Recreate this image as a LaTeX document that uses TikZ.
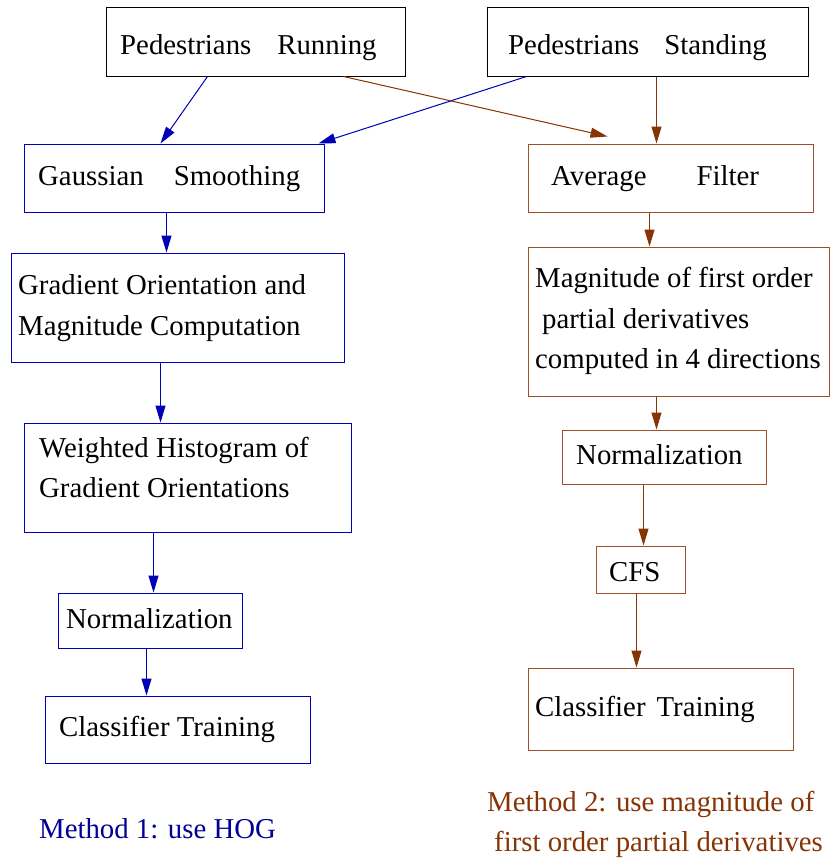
\documentclass[tikz,border=0pt]{standalone}
\usepackage{fontspec}
\setmainfont{Liberation Serif}
\usetikzlibrary{arrows.meta}
\definecolor{hogblue}{RGB}{0,0,185}
\definecolor{hoglabel}{RGB}{0,0,150}
\definecolor{derbrown}{RGB}{135,52,5}
\definecolor{derbox}{RGB}{160,80,40}

\begin{document}
\begin{tikzpicture}[x=1pt,y=-1pt,
  box/.style={draw,line width=1pt,inner sep=0pt,rectangle},
  blackbox/.style={box,draw=black},
  bluebox/.style={box,draw=hogblue},
  brownbox/.style={box,draw=derbox},
  txt/.style={inner sep=0pt,anchor=base west,font=\fontsize{28.8}{34}\selectfont},
  barrow/.style={draw=hogblue,line width=1pt,-{Triangle[length=17pt,width=10pt]}},
  rarrow/.style={draw=derbrown,line width=1pt,-{Triangle[length=17pt,width=10pt]}}]

\useasboundingbox (0,0) rectangle (830,859);

% input boxes
\node[blackbox,minimum width=299pt,minimum height=68pt] (pr) at (255.5,42) {};
\node[blackbox,minimum width=321pt,minimum height=68pt] (ps) at (647.5,42) {};
\node[txt] (pr-t) at (120,55) {Pedestrians\hspace{26pt}Running};
\node[txt] (ps-t) at (508,55) {Pedestrians\hspace{25pt}Standing};

% method 1: HOG chain
\node[bluebox,minimum width=300pt,minimum height=68pt] (gs) at (174,178) {};
\node[bluebox,minimum width=333pt,minimum height=109pt] (go) at (177.5,307.5) {};
\node[bluebox,minimum width=327pt,minimum height=109pt] (wh) at (187.5,477.5) {};
\node[bluebox,minimum width=184pt,minimum height=55pt] (nl) at (150,620.5) {};
\node[bluebox,minimum width=265pt,minimum height=67pt] (ctl) at (177.5,729.5) {};

\node[txt] (gs-t) at (38,185) {Gaussian\hspace{30pt}Smoothing};
\node[txt] (go-t1) at (18,294) {Gradient Orientation and};
\node[txt] (go-t2) at (18,335) {Magnitude Computation};
\node[txt] (wh-t1) at (39,457) {Weighted Histogram of};
\node[txt] (wh-t2) at (39,497) {Gradient Orientations};
\node[txt] (nl-t) at (66,628) {Normalization};
\node[txt] (ctl-t) at (59,736) {Classifier Training};

% method 2: derivative chain
\node[brownbox,minimum width=285pt,minimum height=68pt] (af) at (670.5,178) {};
\node[brownbox,minimum width=301pt,minimum height=149pt] (mg) at (678.5,321.5) {};
\node[brownbox,minimum width=204pt,minimum height=54pt] (nr) at (664,457) {};
\node[brownbox,minimum width=89pt,minimum height=47pt] (cfs) at (640.5,569.5) {};
\node[brownbox,minimum width=265pt,minimum height=82pt] (ctr) at (660.5,709) {};

\node[txt] (af-t) at (551,185) {Average\hspace{50pt}Filter};
\node[txt] (mg-t1) at (535,287) {Magnitude of first order};
\node[txt] (mg-t2) at (542,328) {partial derivatives};
\node[txt] (mg-t3) at (535,368) {computed in 4 directions};
\node[txt] (nr-t) at (576,464) {Normalization};
\node[txt] (cfs-t) at (609,581) {CFS};
\node[txt] (ctr-t) at (535,716) {Classifier\hspace{11pt}Training};

% captions
\node[txt,text=hoglabel] (cap1) at (39,838) {Method 1: use HOG};
\node[txt,text=derbrown] (cap2a) at (487,811) {Method 2: use magnitude of};
\node[txt,text=derbrown] (cap2b) at (494,851) {first order partial derivatives};

% connectors, method 1
\draw[barrow] ([xshift=102pt]pr.south west) -- ([xshift=137pt]gs.north west);
\draw[barrow] ([xshift=40pt]ps.south west) -- ([xshift=295pt]gs.north west);
\draw[barrow] ([xshift=143pt]gs.south west) -- ([xshift=156pt]go.north west);
\draw[barrow] ([xshift=150pt]go.south west) -- ([xshift=137pt]wh.north west);
\draw[barrow] ([xshift=130pt]wh.south west) -- ([xshift=96pt]nl.north west);
\draw[barrow] ([xshift=89pt]nl.south west) -- ([xshift=102pt]ctl.north west);

% connectors, method 2
\draw[rarrow] ([xshift=238pt]pr.south west) -- ([xshift=80pt,yshift=7pt]af.north west);
\draw[rarrow] ([xshift=170pt]ps.south west) -- ([xshift=129pt]af.north west);
\draw[rarrow] ([xshift=122pt]af.south west) -- ([xshift=122pt]mg.north west);
\draw[rarrow] ([xshift=129pt]mg.south west) -- ([xshift=95pt]nr.north west);
\draw[rarrow] ([xshift=82pt]nr.south west) -- ([xshift=48pt]cfs.north west);
\draw[rarrow] ([xshift=41pt]cfs.south west) -- ([xshift=109pt]ctr.north west);
\end{tikzpicture}
\end{document}
